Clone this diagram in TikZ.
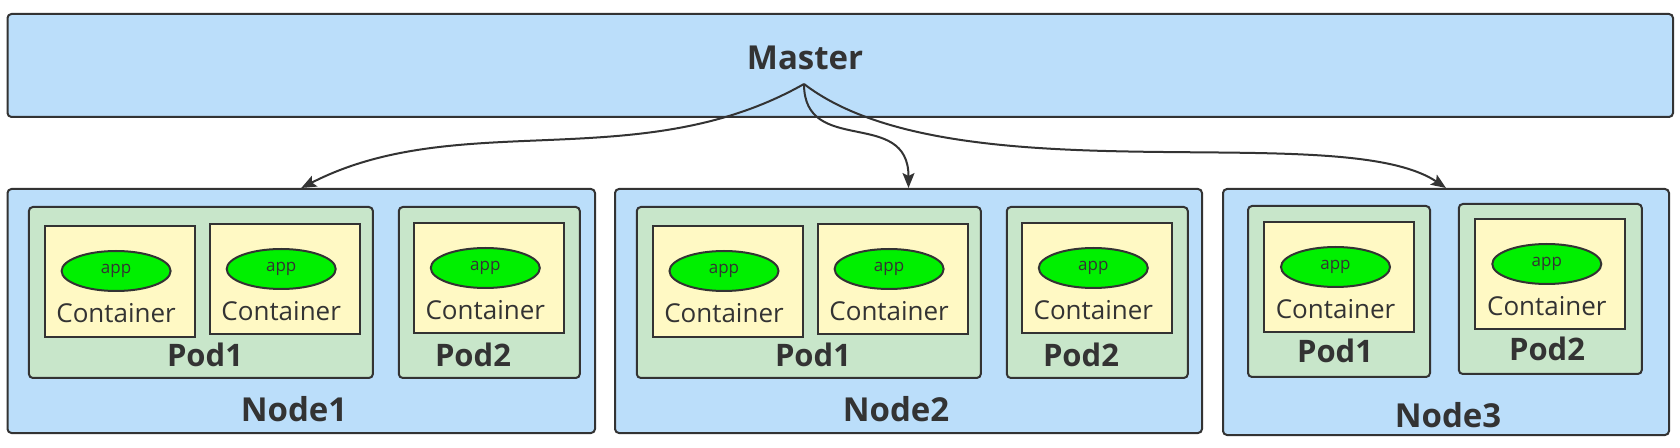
\documentclass[tikz,border=0pt]{standalone}
\usepackage{fontspec}
\setmainfont{Open Sans}
\usetikzlibrary{arrows.meta,positioning,shapes.geometric}
\definecolor{boxblue}{HTML}{BBDEFA}
\definecolor{podgreen}{HTML}{C8E6CA}
\definecolor{ctryellow}{HTML}{FFF9C4}
\definecolor{appgreen}{HTML}{00F000}
\definecolor{inkgray}{HTML}{333333}
\tikzset{
  hostbox/.style={draw=inkgray, fill=boxblue, line width=2pt, rounded corners=4pt, inner sep=0pt},
  podbox/.style={draw=inkgray, fill=podgreen, line width=2pt, rounded corners=4pt, inner sep=0pt},
  ctrbox/.style={draw=inkgray, fill=ctryellow, line width=2pt, inner sep=0pt, minimum width=150pt, minimum height=110pt},
  appdot/.style={ellipse, draw=inkgray, fill=appgreen, line width=2pt, inner sep=0pt, minimum width=109pt, minimum height=40pt, text=inkgray, font=\fontsize{17}{17}\selectfont},
  ctrtext/.style={anchor=base, inner sep=0pt, text=inkgray, font=\fontsize{26}{26}\selectfont},
  podtext/.style={anchor=base, inner sep=0pt, text=inkgray, font=\fontsize{31}{31}\selectfont\bfseries},
  hosttext/.style={anchor=base, inner sep=0pt, text=inkgray, font=\fontsize{33}{33}\selectfont\bfseries},
  link/.style={draw=inkgray, line width=2pt, -{Stealth[length=15pt,width=12pt,inset=3pt]}}
}
\begin{document}
\begin{tikzpicture}[x=1pt,y=1pt]
\useasboundingbox (0,0) rectangle (1680,447);
\node[hostbox, minimum width=1665.5pt, minimum height=103pt] (master) at (840.25,381.5) {};
\node[hosttext] (mastertxt) at (805,377) {Master};
\coordinate (hub) at ([xshift=-1pt,yshift=-14pt]mastertxt.base);
\node[hostbox, minimum width=587.5pt, minimum height=244pt] (n1) at (301.25,136) {};
\node[hostbox, minimum width=587pt, minimum height=244pt] (n2) at (908.5,136) {};
\node[hostbox, minimum width=446pt, minimum height=246pt] (n3) at (1446,135) {};
\node[hosttext] (n1txt) at (294,26) {Node1};
\node[hosttext] (n2txt) at (896,26) {Node2};
\node[hosttext] (n3txt) at (1448,20) {Node3};
\node[podbox, minimum width=344pt, minimum height=171pt] (n1p1) at (200.9,154.5) {};
\node[podbox, minimum width=181pt, minimum height=171pt] (n1p2) at (489.3,154.5) {};
\node[podbox, minimum width=344pt, minimum height=171pt] (n2p1) at (808.8,154.5) {};
\node[podbox, minimum width=181pt, minimum height=171pt] (n2p2) at (1097.3,154.5) {};
\node[podbox, minimum width=182pt, minimum height=171pt] (n3p1) at (1339,155.5) {};
\node[podbox, minimum width=183pt, minimum height=170pt] (n3p2) at (1550.3,158) {};
\node[podtext] (n1p1txt) at (205,80) {Pod1};
\node[podtext] (n1p2txt) at (473,80) {Pod2};
\node[podtext] (n2p1txt) at (813,80) {Pod1};
\node[podtext] (n2p2txt) at (1081,80) {Pod2};
\node[podtext] (n3p1txt) at (1335,84) {Pod1};
\node[podtext] (n3p2txt) at (1547,86) {Pod2};
\node[ctrbox, minimum height=111pt] (n1c1) at (119.6,165.5) {};
\node[ctrbox] (n1c2) at (284.7,168) {};
\node[ctrbox] (n1c3) at (488.8,169) {};
\node[ctrbox, minimum height=111pt] (n2c1) at (727.5,165.5) {};
\node[ctrbox] (n2c2) at (892.6,168) {};
\node[ctrbox] (n2c3) at (1096.8,169) {};
\node[ctrbox] (n3c1) at (1339,170) {};
\node[ctrbox] (n3c2) at (1550.3,173) {};
\node[appdot] (n1a1) at ([xshift=-3.5pt,yshift=-46pt]n1c1.north) {app};
\node[appdot] (n1a2) at ([xshift=-3.5pt,yshift=-46pt]n1c2.north) {app};
\node[appdot] (n1a3) at ([xshift=-3.5pt,yshift=-46pt]n1c3.north) {app};
\node[appdot] (n2a1) at ([xshift=-3.5pt,yshift=-46pt]n2c1.north) {app};
\node[appdot] (n2a2) at ([xshift=-3.5pt,yshift=-46pt]n2c2.north) {app};
\node[appdot] (n2a3) at ([xshift=-3.5pt,yshift=-46pt]n2c3.north) {app};
\node[appdot] (n3a1) at ([xshift=-3.5pt,yshift=-46pt]n3c1.north) {app};
\node[appdot] (n3a2) at ([xshift=-3.5pt,yshift=-46pt]n3c2.north) {app};
\node[ctrtext] (n1t1) at ([xshift=-3.5pt,yshift=-98pt]n1c1.north) {Container};
\node[ctrtext] (n1t2) at ([xshift=-3.5pt,yshift=-98pt]n1c2.north) {Container};
\node[ctrtext] (n1t3) at ([xshift=-3.5pt,yshift=-98pt]n1c3.north) {Container};
\node[ctrtext] (n2t1) at ([xshift=-3.5pt,yshift=-98pt]n2c1.north) {Container};
\node[ctrtext] (n2t2) at ([xshift=-3.5pt,yshift=-98pt]n2c2.north) {Container};
\node[ctrtext] (n2t3) at ([xshift=-3.5pt,yshift=-98pt]n2c3.north) {Container};
\node[ctrtext] (n3t1) at ([xshift=-3.5pt,yshift=-98pt]n3c1.north) {Container};
\node[ctrtext] (n3t2) at ([xshift=-3.5pt,yshift=-98pt]n3c2.north) {Container};
\draw[link] (hub) .. controls +(-164,-93) and +(158,81) .. (n1.north);
\draw[link] (hub) .. controls +(0,-73) and +(0,81) .. (n2.north);
\draw[link] (hub) .. controls +(150,-115) and +(-106,71) .. (n3.north);
\end{tikzpicture}
\end{document}
